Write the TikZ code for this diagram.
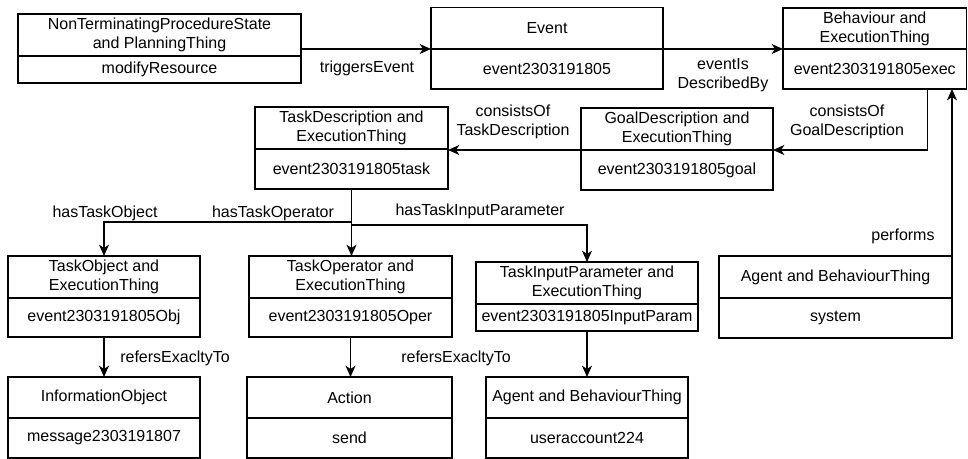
\documentclass[tikz,border=0pt]{standalone}
\usepackage{fontspec}
\setmainfont{Liberation Sans}
\usetikzlibrary{arrows.meta,calc}
\tikzset{
  cls/.style={draw, line width=1.05pt, inner sep=0pt, outer sep=0pt, align=center, font=\fontsize{12}{14.25}\selectfont},
  lbl/.style={inner sep=0pt, align=center, font=\fontsize{12}{14.25}\selectfont},
  arr/.style={line width=1.1pt, -{Stealth[length=8.5pt,width=7.5pt,inset=2.5pt]}},
}
% name, x1, y1, ydiv, x2, y2, title, value
\newcommand\umlbox[8]{%
  \pgfmathsetmacro\umlbw{(#5-#2)*0.75}%
  \pgfmathsetmacro\umlht{(#4-#3)*0.75}%
  \pgfmathsetmacro\umlhb{(#6-#4)*0.75}%
  \node[cls, minimum width=\umlbw pt, minimum height=\umlht pt] (#1-t) at ({(#2+#5)/2},{(#3+#4)/2}) {#7};
  \node[cls, minimum width=\umlbw pt, minimum height=\umlhb pt] (#1-b) at ({(#2+#5)/2},{(#4+#6)/2}) {#8};
}
\begin{document}
\begin{tikzpicture}[x=0.75pt,y=-0.75pt]
\useasboundingbox (0,0) rectangle (968,459);
\umlbox{A}{18}{14}{56}{301}{83}{NonTerminatingProcedureState\\and PlanningThing}{modifyResource}
\umlbox{B}{431}{7.5}{49}{663}{89}{Event}{event2303191805}
\umlbox{C}{783}{8}{49}{966.5}{89}{Behaviour and\\ExecutionThing}{event2303191805exec}
\umlbox{D}{581}{108}{150}{773}{190}{GoalDescription and\\ExecutionThing}{event2303191805goal}
\umlbox{E}{255}{107}{149}{448}{189}{TaskDescription and\\ExecutionThing}{event2303191805task}
\umlbox{F}{8}{256}{298}{200}{337}{TaskObject and\\ExecutionThing}{event2303191805Obj}
\umlbox{G}{249}{256}{298}{452}{337}{TaskOperator and\\ExecutionThing}{event2303191805Oper}
\umlbox{H}{476}{262}{304}{698}{331}{TaskInputParameter and\\ExecutionThing}{event2303191805InputParam}
\umlbox{I}{719}{256}{298}{952}{338}{Agent and BehaviourThing}{system}
\umlbox{J}{8}{377}{418}{200}{458}{InformationObject}{message2303191807}
\umlbox{K}{247}{377}{418}{452}{458}{Action}{send}
\umlbox{L}{486}{377}{418}{688}{458}{Agent and BehaviourThing}{useraccount224}

% connectors
\draw[arr] (A-t.east |- B-t.south) -- (B-t.south west);
\draw[arr] (B-t.south east) -- (C-t.south west);
\draw[arr] ($(C-b.south)+(52.5,0)$) |- (D-t.south east);
\draw[arr] (D-t.south west) -- (D-t.south west -| E-t.east);
\draw[arr] (I-t.north east) -- (I-t.north east |- C-b.south);
\draw[arr] (E-b.south) -- ++(0,33) -| (F-t.north);
\draw[arr] (E-b.south) -- (E-b.south |- G-t.north);
\draw[arr] (E-b.south) -- ++(0,36) -| (H-t.north);
\draw[arr] (F-b.south) -- (J-t.north);
\draw[arr] (G-b.south) -- (G-b.south |- K-t.north);
\draw[arr] (H-b.south) -- (L-t.north);

% labels
\node[lbl] (l1) at (367,68) {triggersEvent};
\node[lbl] (l2) at (723,75) {eventIs\\DescribedBy};
\node[lbl] (l3) at (847,122) {consistsOf\\GoalDescription};
\node[lbl] (l4) at (513,122) {consistsOf\\TaskDescription};
\node[lbl] (l5) at (903,236) {performs};
\node[lbl] (l6) at (105,213) {hasTaskObject};
\node[lbl] (l7) at (273,213) {hasTaskOperator};
\node[lbl] (l8) at (480,211) {hasTaskInputParameter};
\node[lbl] (l9) at (175,358) {refersExacltyTo};
\node[lbl] (l10) at (456,358) {refersExacltyTo};
\end{tikzpicture}
\end{document}
